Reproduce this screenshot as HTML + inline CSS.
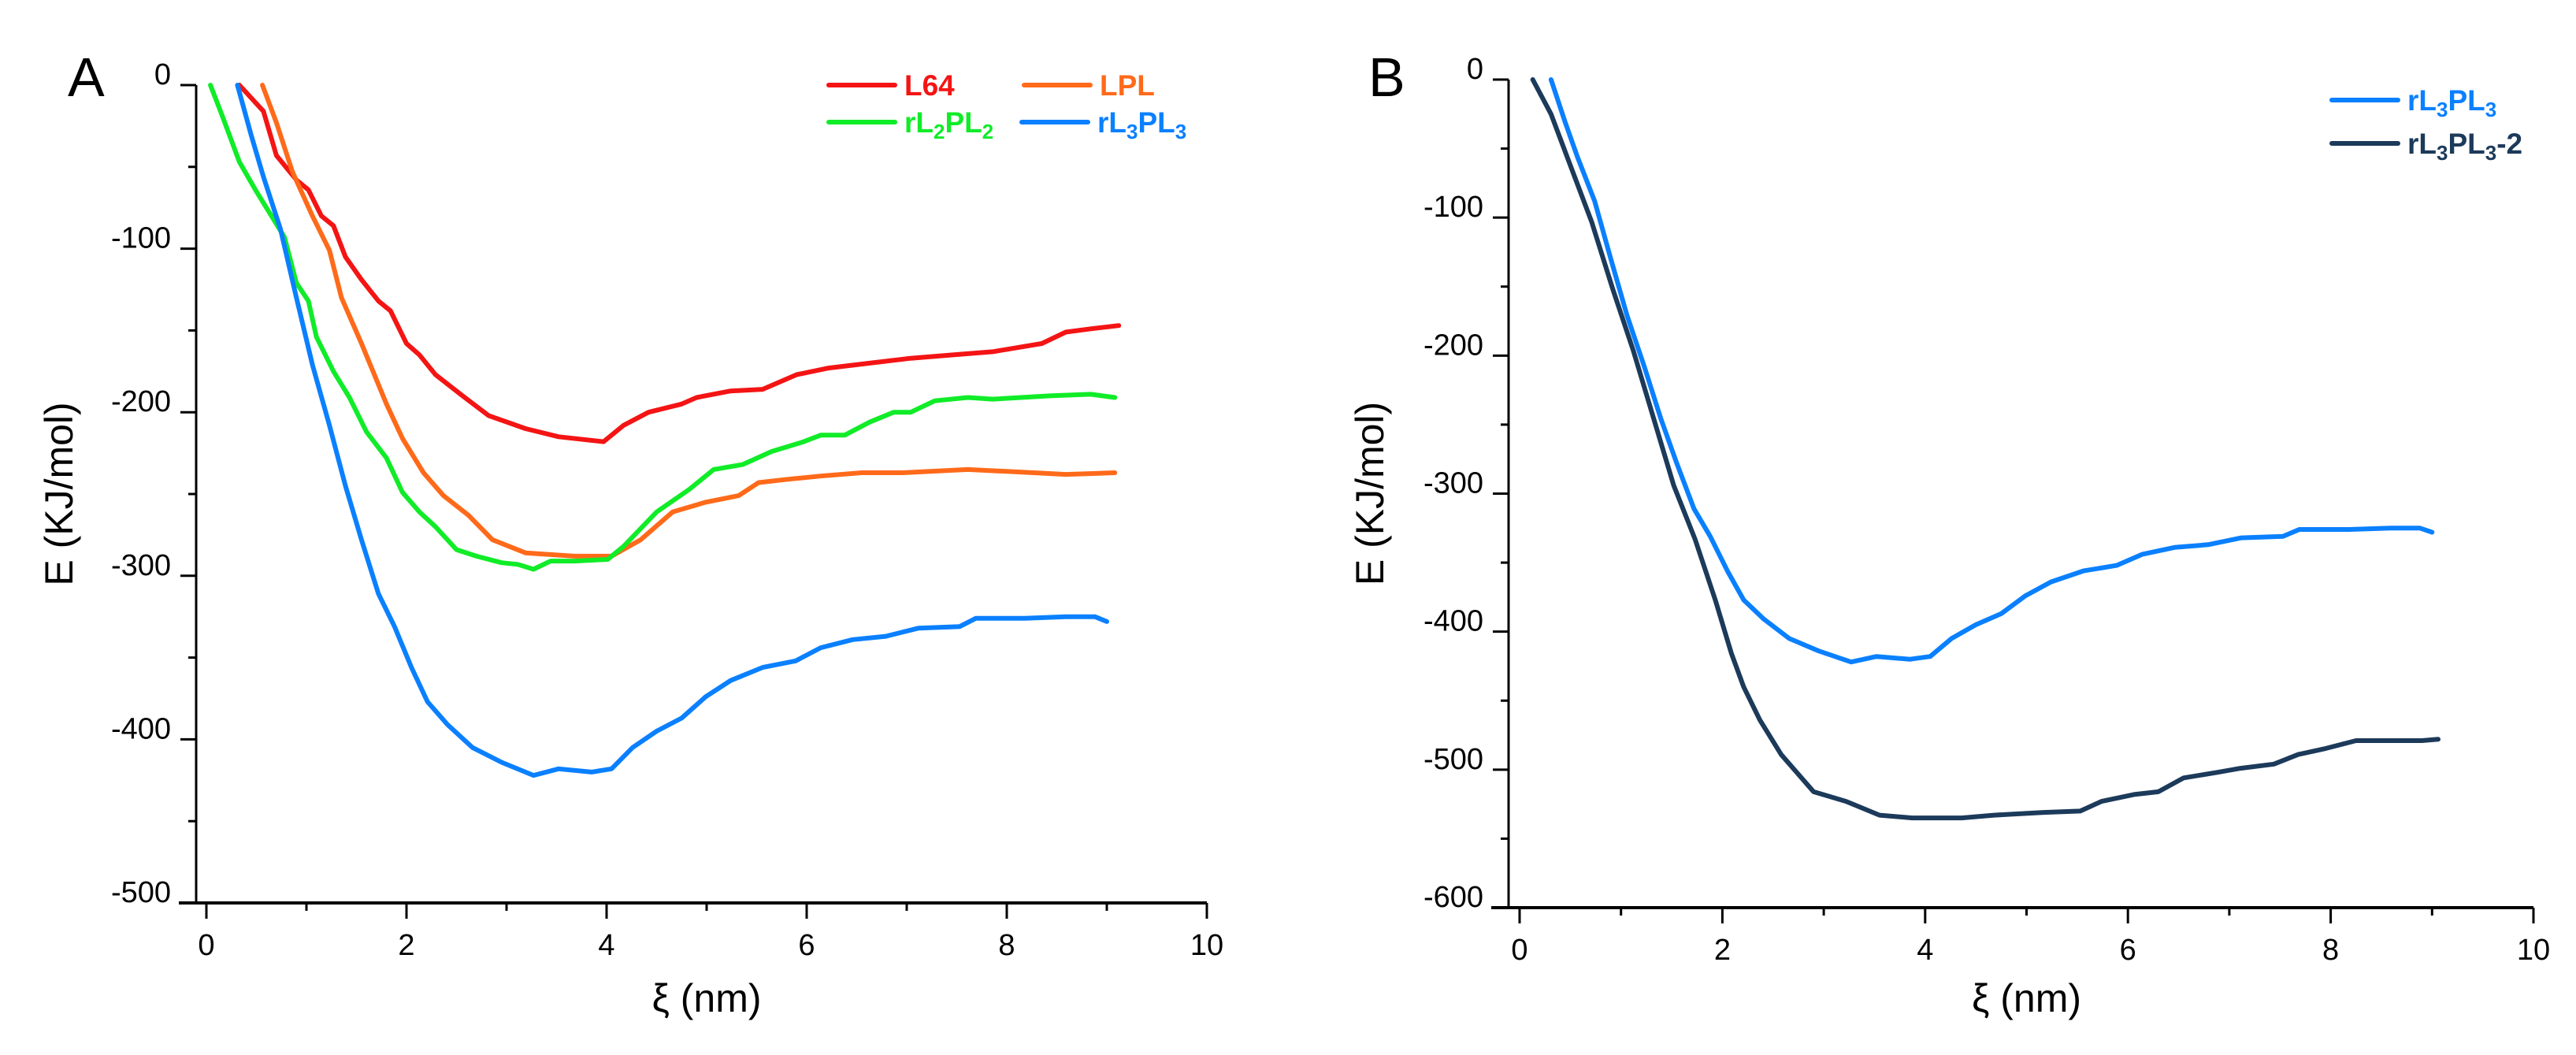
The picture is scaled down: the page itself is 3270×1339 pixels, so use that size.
<!DOCTYPE html>
<html><head><meta charset="utf-8"><style>
html,body{margin:0;padding:0;background:#fff;}
svg{display:block;font-family:"Liberation Sans",sans-serif;}
</style></head><body>
<svg id="chart" width="3270" height="1339" viewBox="0 0 3270 1339" xmlns="http://www.w3.org/2000/svg"></svg>
<script>
// Panel A data
const xL64 = [0.33,0.57,0.7,0.9,1.02,1.15,1.27,1.39,1.55,1.72,1.84,2.0,2.13,2.29,2.54,2.82,3.19,3.52,3.97,4.17,4.42,4.75,4.9,5.24,5.56,5.9,6.22,6.63,7.04,7.45,7.86,8.35,8.59,8.84,9.12];
const yL64 = [0,-16,-43,-58,-64,-80,-86,-105,-119,-132,-138,-158,-165,-177,-189,-202,-210,-215,-218,-208,-200,-195,-191,-187,-186,-177,-173,-170,-167,-165,-163,-158,-151,-149,-147];
const xLPL = [0.56,0.7,0.86,1.06,1.23,1.35,1.55,1.8,1.96,2.17,2.37,2.62,2.86,3.19,3.68,4.05,4.34,4.66,4.99,5.32,5.52,5.81,6.14,6.55,6.96,7.61,8.27,8.59,9.08];
const yLPL = [0,-23,-53,-80,-101,-130,-158,-195,-216,-237,-251,-263,-278,-286,-288,-288,-278,-261,-255,-251,-243,-241,-239,-237,-237,-235,-237,-238,-237];
const xL2 = [0.04,0.16,0.33,0.49,0.65,0.78,0.9,1.02,1.1,1.27,1.43,1.6,1.8,1.96,2.13,2.29,2.5,2.7,2.95,3.11,3.27,3.44,3.68,4.01,4.17,4.5,4.83,5.07,5.36,5.65,5.97,6.14,6.38,6.63,6.87,7.04,7.28,7.61,7.86,8.43,8.84,9.08];
const yL2 = [0,-19,-47,-64,-80,-93,-121,-132,-154,-175,-191,-212,-228,-249,-261,-270,-284,-288,-292,-293,-296,-291,-291,-290,-282,-261,-247,-235,-232,-224,-218,-214,-214,-206,-200,-200,-193,-191,-192,-190,-189,-191];
const xL3 = [0.31,0.45,0.57,0.74,0.9,1.06,1.23,1.39,1.55,1.72,1.88,2.05,2.21,2.41,2.66,2.95,3.27,3.52,3.85,4.05,4.26,4.5,4.75,4.99,5.24,5.56,5.89,6.14,6.46,6.79,7.12,7.53,7.69,8.18,8.59,8.88,9.0];
const yL3 = [0,-31,-56,-88,-130,-171,-208,-245,-278,-311,-331,-356,-377,-391,-405,-414,-422,-418,-420,-418,-405,-395,-387,-374,-364,-356,-352,-344,-339,-337,-332,-331,-326,-326,-325,-325,-328];
// Panel B extra series
const xL3b = [0.13,0.31,0.51,0.71,0.92,1.12,1.32,1.52,1.73,1.93,2.09,2.21,2.37,2.58,2.9,3.22,3.55,3.87,4.36,4.68,5.17,5.53,5.74,6.06,6.3,6.55,6.88,7.11,7.44,7.68,7.93,8.25,8.57,8.9,9.06];
const yL3b = [0,-25,-64,-103,-152,-196,-245,-294,-333,-377,-416,-440,-464,-489,-516,-523,-533,-535,-535,-533,-531,-530,-523,-518,-516,-506,-502,-499,-496,-489,-485,-479,-479,-479,-478];
const xTicks = [0,2,4,6,8,10];
const yTicksA = [0,-100,-200,-300,-400,-500];
const yTicksB = [0,-100,-200,-300,-400,-500,-600];

const NS = "http://www.w3.org/2000/svg";
const svg = document.getElementById('chart');
function mk(tag, attrs, parent, text){
  const e = document.createElementNS(NS, tag);
  for (const k in attrs) e.setAttribute(k, attrs[k]);
  if (text !== undefined) e.textContent = text;
  (parent||svg).appendChild(e);
  return e;
}

function panel(cfg){
  const g = mk('g', {});
  
  
  const sx = v => cfg.x0 + (v/10)*(cfg.x10 - cfg.x0);
  const sy = v => cfg.y0 + (v/cfg.ymin)*(cfg.ybot - cfg.y0);
  const ya = mk('line', {x1:cfg.ax, y1:cfg.y0, x2:cfg.ax, y2:cfg.ybot, stroke:'#000','stroke-width':3}, g);
  
  
  const xa = mk('line', {x1:cfg.ax-22, y1:cfg.ybot, x2:cfg.x10, y2:cfg.ybot, stroke:'#000','stroke-width':4}, g);
  
  
  for (let v = 0; v >= cfg.ymin; v -= 50) {
    const major = (v % 100 === 0);
    const t = mk('line', {x1:cfg.ax-(major?20:10), y1:sy(v), x2:cfg.ax, y2:sy(v), stroke:'#000','stroke-width':3}, g);
    
    
  }
  cfg.yTicks.forEach(v => {
    const t = mk('text', {x:cfg.ax-32, y:sy(v)-1, 'font-size':38, 'text-anchor':'end', fill:'#000'}, g, String(v));
    
    
  });
  for (let v = 0; v <= 10; v += 1) {
    const major = (v % 2 === 0);
    const t = mk('line', {x1:sx(v), y1:cfg.ybot, x2:sx(v), y2:cfg.ybot+(major?20:10), stroke:'#000','stroke-width':3}, g);
    
    
  }
  xTicks.forEach(v => {
    const t = mk('text', {x:sx(v), y:cfg.ybot+66, 'font-size':38, 'text-anchor':'middle', fill:'#000'}, g, String(v));
    
    
  });
  const xt = mk('text', {x:(cfg.x0+cfg.x10)/2, y:1284, 'font-size':50, 'text-anchor':'middle', fill:'#000'}, g, 'ξ (nm)');
  
  
  const yt = mk('text', {x:0, y:0, 'font-size':50, 'text-anchor':'middle', fill:'#000', transform:`translate(${cfg.titleX},${(cfg.y0+cfg.ybot)/2}) rotate(-90)`}, g, 'E (KJ/mol)');
  
  
  const pl = mk('text', {x:cfg.labelX, y:122, 'font-size':70, fill:'#000'}, g, cfg.label);
  
  
  cfg.series.forEach(s => {
    const d = s.xs.map((x,i) => (i?'L':'M') + sx(x).toFixed(1) + ',' + sy(s.ys[i]).toFixed(1)).join(' ');
    const p = mk('path', {d:d, fill:'none', stroke:s.color, 'stroke-width':6, 'stroke-linejoin':'round', 'stroke-linecap':'round'}, g);
    
    
    const lg = mk('g', {}, g);
    
    
    mk('line', {x1:s.lx, y1:s.ly, x2:s.lx+84, y2:s.ly, stroke:s.color, 'stroke-width':6, 'stroke-linecap':'round'}, lg);
    const t = mk('text', {x:s.lx+96, y:s.ly+13, 'font-size':37, 'font-weight':'bold', fill:s.color}, lg);
    s.parts.forEach(pt => {
      mk('tspan', pt[1] ? {'font-size':26, dy:8} : {'font-size':37, dy:pt[2]||0}, t, pt[0]);
    });
  });
}

panel({name:'panel-a', x0:262, x10:1532, y0:108, ybot:1146, ymin:-500, ax:249, yTicks:yTicksA, titleX:92, labelX:86, label:'A',
  series:[
    {id:'l64', xs:xL64, ys:yL64, color:'#f41414', lx:1052, ly:108, parts:[['L64',0]]},
    {id:'lpl', xs:xLPL, ys:yLPL, color:'#ff6a1a', lx:1300, ly:108, parts:[['LPL',0]]},
    {id:'rl2pl2', xs:xL2, ys:yL2, color:'#10ec28', lx:1052, ly:155, parts:[['rL',0],['2',1],['PL',0,-8],['2',1]]},
    {id:'rl3pl3', xs:xL3, ys:yL3, color:'#0a80ff', lx:1297, ly:155, parts:[['rL',0],['3',1],['PL',0,-8],['3',1]]}
  ]});
panel({name:'panel-b', x0:1929, x10:3216, y0:101, ybot:1152, ymin:-600, ax:1915, yTicks:yTicksB, titleX:1756, labelX:1737, label:'B',
  series:[
    {id:'rl3pl3', xs:xL3, ys:yL3, color:'#0a80ff', lx:2960, ly:127, parts:[['rL',0],['3',1],['PL',0,-8],['3',1]]},
    {id:'rl3pl3-2', xs:xL3b, ys:yL3b, color:'#1c3a5a', lx:2960, ly:182, parts:[['rL',0],['3',1],['PL',0,-8],['3',1],['-2',0,-8]]}
  ]});
</script>
</body></html>
